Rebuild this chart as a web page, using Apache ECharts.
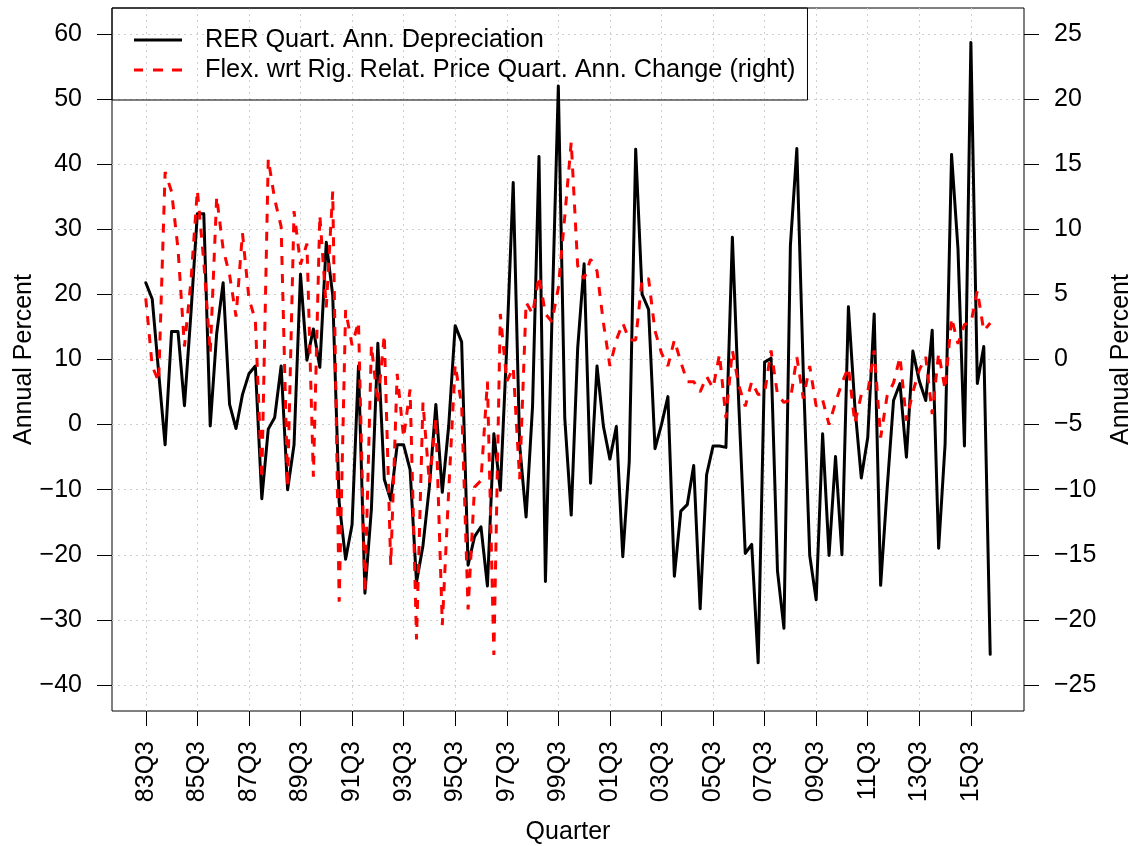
<!DOCTYPE html>
<html>
<head>
<meta charset="utf-8">
<script src="https://cdn.jsdelivr.net/npm/echarts@6/dist/echarts.min.js"></script>
<style>html,body{margin:0;padding:0;background:#fff}#c{width:1140px;height:846px}</style>
</head>
<body>
<div id="c"></div>
<script>
const categories = [
'83Q3','83Q4',
'84Q1','84Q2','84Q3','84Q4','85Q1','85Q2','85Q3','85Q4',
'86Q1','86Q2','86Q3','86Q4','87Q1','87Q2','87Q3','87Q4',
'88Q1','88Q2','88Q3','88Q4','89Q1','89Q2','89Q3','89Q4',
'90Q1','90Q2','90Q3','90Q4','91Q1','91Q2','91Q3','91Q4',
'92Q1','92Q2','92Q3','92Q4','93Q1','93Q2','93Q3','93Q4',
'94Q1','94Q2','94Q3','94Q4','95Q1','95Q2','95Q3','95Q4',
'96Q1','96Q2','96Q3','96Q4','97Q1','97Q2','97Q3','97Q4',
'98Q1','98Q2','98Q3','98Q4','99Q1','99Q2','99Q3','99Q4',
'00Q1','00Q2','00Q3','00Q4','01Q1','01Q2','01Q3','01Q4',
'02Q1','02Q2','02Q3','02Q4','03Q1','03Q2','03Q3','03Q4',
'04Q1','04Q2','04Q3','04Q4','05Q1','05Q2','05Q3','05Q4',
'06Q1','06Q2','06Q3','06Q4','07Q1','07Q2','07Q3','07Q4',
'08Q1','08Q2','08Q3','08Q4','09Q1','09Q2','09Q3','09Q4',
'10Q1','10Q2','10Q3','10Q4','11Q1','11Q2','11Q3','11Q4',
'12Q1','12Q2','12Q3','12Q4','13Q1','13Q2','13Q3','13Q4',
'14Q1','14Q2','14Q3','14Q4','15Q1','15Q2','15Q3','15Q4',
'16Q1','16Q2'
];

// RER quarterly annualised depreciation (left axis)
const rer = [
21.8,19.3,8,-3.1,14.3,14.3,2.9,17,32.4,32.4,
-0.2,14,21.8,3.1,-0.6,4.6,7.8,9,-11.4,-0.7,
1.1,9,-10,-3.1,23.1,9.9,14.7,8.8,28,19.9,
-11.9,-20.7,-15.4,9,-25.9,-13,12.5,-8.4,-11.6,-3.1,
-3.1,-6.9,-24.2,-18.6,-9.5,3.1,-10.4,-0.1,15.2,12.7,
-21.6,-17.2,-15.7,-24.8,-1.4,-10.1,12,37.2,-3.1,-14.2,
2.8,41.2,-24.1,15.8,52,1,-13.9,11.7,24.7,-9,
9,-0.3,-5.3,-0.3,-20.3,-5.7,42.3,20,17.7,-3.7,
0,4.3,-23.3,-13.3,-12.3,-6.3,-28.3,-7.7,-3.3,-3.3,
-3.5,28.8,3,-19.8,-18.4,-36.6,9.6,10.2,-22.5,-31.3,
27.5,42.4,8,-20.1,-26.9,-1.4,-20.1,-4.9,-20,18.1,
2.8,-8.2,-2,17,-24.7,-10,3.7,6.3,-5,11.3,
6.7,3.7,14.5,-19,-3,41.5,27,-3.3,58.7,6.3,
12,-35.3
];

// Flex. wrt rigid relative price quarterly annualised change (right axis)
const flex = [
4.7,-0.5,-1.7,14.4,12.9,8.5,1,6,13,7.5,
0.5,12.5,8.5,6.5,3.3,9.7,4.7,3,-9.2,15.4,
12.3,10.2,-9.8,11.4,7.3,8.9,-9,11.1,4,12.9,
-18.6,3.8,1.1,2.9,-17.9,1.1,-3.4,1.9,-15.8,-1.1,
-6,-2.3,-21.5,-3.3,-9.5,-4.5,-20.4,-10,-0.4,-3.5,
-19.2,-9.8,-9.3,-1.7,-22.7,3.5,-1.7,-0.6,-9.2,4.4,
3.5,6.4,3.5,2.9,5.5,11,16.7,7.2,6.2,7.7,
6.8,2.8,-0.5,1.5,2.8,1.5,1.5,6.2,6.2,2.2,
0.5,-0.5,1.5,-0.2,-1.7,-1.7,-2.5,-1.3,-2.2,0.4,
-4.5,0.7,-2,-3.6,-1.7,-2.7,-2.6,0.7,-2.7,-3.3,
-3.1,0.2,-3,-0.5,-3.6,-3.1,-5,-3.3,-1.8,-0.6,
-4.9,-2.7,-2.5,0.7,-6,-2.8,-1.8,0.2,-4.7,-2.5,
-0.8,0.2,-4.2,0.5,-2.3,3.2,1.2,2.7,2.8,5.3,
2.2,2.8
];

const xTickLabels = ['83Q3','85Q3','87Q3','89Q3','91Q3','93Q3','95Q3','97Q3','99Q3','01Q3','03Q3','05Q3','07Q3','09Q3','11Q3','13Q3','15Q3'];
const leftTicks = [-40,-30,-20,-10,0,10,20,30,40,50,60];
const rightTicks = [-25,-20,-15,-10,-5,0,5,10,15,20,25];

const xTickPos = xTickLabels.map(l => categories.indexOf(l));
const nPts = categories.length;
const pad = 0.04 * (nPts - 1);
const FONT = "'Liberation Sans', Arial, Helvetica, sans-serif";
const minus = v => String(v).replace('-', '\u2212');
const gridLine = {show: true, lineStyle: {color: '#cfcfcf', width: 1, type: [2, 4]}};
const nameRER = 'RER Quart. Ann. Depreciation';
const nameFlex = 'Flex. wrt Rig. Relat. Price Quart. Ann. Change (right)';

const chart = echarts.init(document.getElementById('c'), null, {renderer: 'canvas'});
chart.setOption({
  animation: false,
  backgroundColor: '#ffffff',
  textStyle: {fontFamily: FONT},
  grid: {left: 112, right: 116, top: 8, bottom: 135, containLabel: false, outerBoundsMode: 'none',
    show: true, borderColor: '#000', borderWidth: 1, backgroundColor: 'transparent'},
  legend: {
    left: 112, top: 8, orient: 'vertical',
    padding: [17, 12, 15, 22],
    itemGap: 0, itemWidth: 48, itemHeight: 3,
    borderColor: '#000', borderWidth: 1, borderRadius: 0,
    backgroundColor: 'transparent',
    textStyle: {fontFamily: FONT, fontSize: 25.3, color: '#000', lineHeight: 30, padding: [0, 0, 0, 18]},
    data: [
      {name: nameRER, icon: 'rect', itemStyle: {color: '#000', borderWidth: 0}},
      {name: nameFlex, icon: 'path://M0,0h9v3h-9z M19,0h10v3h-10z M38,0h10v3h-10z', itemStyle: {color: '#ff0000', borderWidth: 0}}
    ]
  },
  xAxis: {
    type: 'value', min: -pad, max: (nPts - 1) + pad,
    name: 'Quarter', nameLocation: 'middle', nameGap: 109, nameMoveOverlap: false,
    nameTextStyle: {fontFamily: FONT, fontSize: 25, color: '#000'},
    axisLine: {show: false, onZero: false},
    axisTick: {show: true, inside: false, length: 15, customValues: xTickPos, lineStyle: {color: '#000', width: 1}},
    axisLabel: {customValues: xTickPos, rotate: 90, margin: 30, fontFamily: FONT, fontSize: 25, color: '#000',
      formatter: v => categories[Math.round(v)]},
    splitLine: gridLine
  },
  yAxis: [{
    type: 'value', min: -44, max: 64, position: 'left',
    name: 'Annual Percent', nameLocation: 'middle', nameGap: 75, nameRotate: 90, nameMoveOverlap: false,
    nameTextStyle: {fontFamily: FONT, fontSize: 25, color: '#000'},
    axisLine: {show: false, onZero: false},
    axisTick: {show: true, inside: false, length: 15, customValues: leftTicks, lineStyle: {color: '#000', width: 1}},
    axisLabel: {customValues: leftTicks, margin: 30, fontFamily: FONT, fontSize: 25, color: '#000', formatter: minus},
    splitLine: gridLine
  }, {
    type: 'value', min: -27, max: 27, position: 'right',
    name: 'Annual Percent', nameLocation: 'middle', nameGap: 85, nameRotate: 90, nameMoveOverlap: false,
    nameTextStyle: {fontFamily: FONT, fontSize: 25, color: '#000'},
    axisLine: {show: false, onZero: false},
    axisTick: {show: true, inside: false, length: 15, customValues: rightTicks, lineStyle: {color: '#000', width: 1}},
    axisLabel: {customValues: rightTicks, margin: 30, fontFamily: FONT, fontSize: 25, color: '#000', formatter: minus},
    splitLine: {show: false}
  }],
  series: [{
    name: nameRER, type: 'line', yAxisIndex: 0,
    data: rer.map((v, i) => [i, v]),
    symbol: 'none', z: 3,
    lineStyle: {color: '#000', width: 3, cap: 'round', join: 'round'},
    itemStyle: {color: '#000'}
  }, {
    name: nameFlex, type: 'line', yAxisIndex: 1,
    data: flex.map((v, i) => [i, v]),
    symbol: 'none', z: 4,
    lineStyle: {color: '#ff0000', width: 3, type: [9, 9]},
    itemStyle: {color: '#ff0000'}
  }]
});
</script>
</body>
</html>
